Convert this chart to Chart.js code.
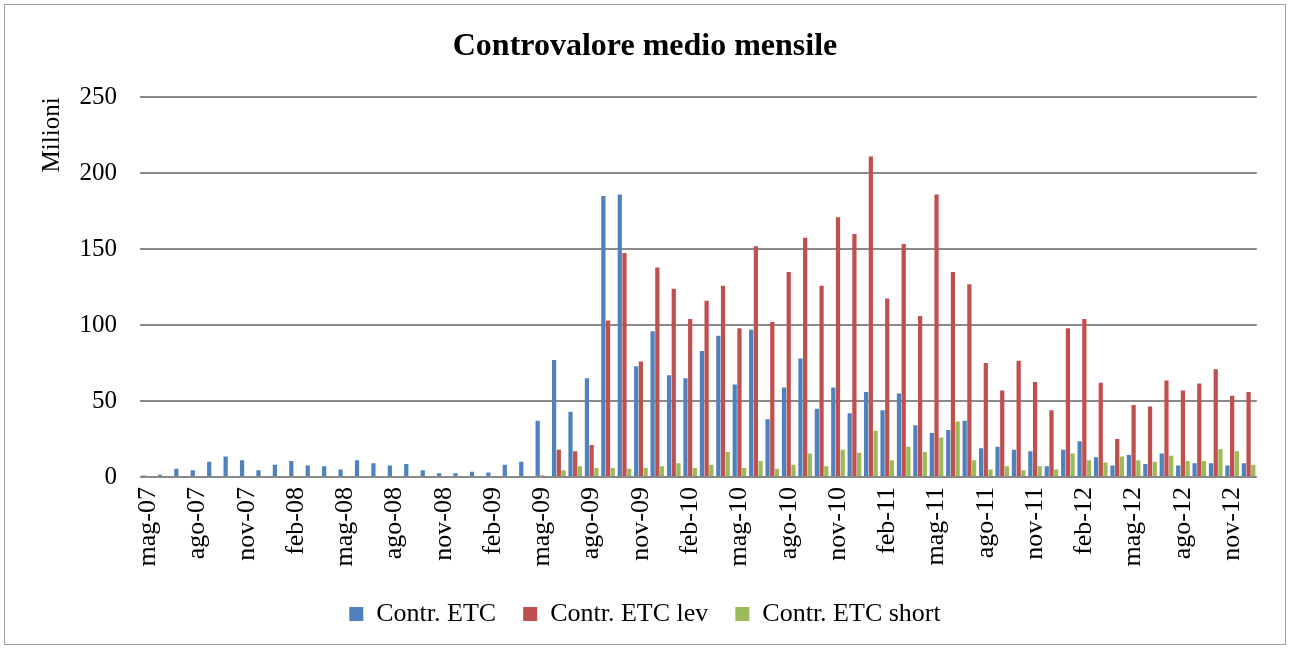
<!DOCTYPE html>
<html>
<head>
<meta charset="utf-8">
<title>Controvalore medio mensile</title>
<script src="https://cdn.jsdelivr.net/npm/chart.js@4.4.0/dist/chart.umd.min.js"></script>
<style>
  html, body { margin: 0; padding: 0; background: #fff; overflow: hidden; }
  #wrap { position: relative; width: 1290px; height: 649px; }
</style>
</head>
<body>
<div id="wrap"><canvas id="myChart"></canvas></div>
<script>
// Months, mag-07 .. dic-12
const months = [
  'mag-07','giu-07','lug-07','ago-07','set-07','ott-07','nov-07','dic-07',
  'gen-08','feb-08','mar-08','apr-08','mag-08','giu-08','lug-08','ago-08','set-08','ott-08','nov-08','dic-08',
  'gen-09','feb-09','mar-09','apr-09','mag-09','giu-09','lug-09','ago-09','set-09','ott-09','nov-09','dic-09',
  'gen-10','feb-10','mar-10','apr-10','mag-10','giu-10','lug-10','ago-10','set-10','ott-10','nov-10','dic-10',
  'gen-11','feb-11','mar-11','apr-11','mag-11','giu-11','lug-11','ago-11','set-11','ott-11','nov-11','dic-11',
  'gen-12','feb-12','mar-12','apr-12','mag-12','giu-12','lug-12','ago-12','set-12','ott-12','nov-12','dic-12'
];

// Values in millions
const contrEtc = [
  1, 1.5, 5.5, 4.5, 10, 13.5, 11, 4.5,
  8, 10.5, 7.5, 7, 5, 11, 9, 7.5, 8.5, 4.5, 2.5, 2.5,
  3.5, 3, 8, 10, 37, 77, 43, 65, 185, 186, 73, 96,
  67, 65, 83, 93, 61, 97, 38, 59, 78, 45, 59, 42,
  56, 44, 55, 34, 29, 31, 37, 19, 20, 18, 17, 7,
  18, 23.5, 13, 7.5, 14.5, 8.5, 15.5, 7.5, 9, 9, 7.5, 9
];
const contrEtcLev = [
  null, null, null, null, null, null, null, null,
  null, null, null, null, null, null, null, null, null, null, null, null,
  null, null, null, null, 1, 18, 17, 21, 103, 147.5, 76, 138,
  124, 104, 116, 126, 98, 152, 102, 135, 157.5, 126, 171, 160,
  211, 117.5, 153.5, 106, 186, 135, 127, 75, 57, 76.5, 62.5, 44,
  98, 104, 62, 25, 47.5, 46.5, 63.5, 57, 61.5, 71, 53.5, 56
];
const contrEtcShort = [
  null, null, null, null, null, null, null, null,
  null, null, null, null, null, null, null, null, null, null, null, null,
  null, null, null, null, null, 4.5, 7, 6, 6, 5.5, 6, 7,
  9, 6, 8, 16.5, 6, 10.5, 5.5, 8, 15.5, 7, 18, 16,
  30.5, 11, 20, 16.5, 26, 36.5, 11, 5, 7, 4.5, 7, 5,
  15.5, 11, 9.5, 13.5, 11, 10, 14, 10.5, 10.5, 18.5, 17, 8
];

const yTicks = [0, 50, 100, 150, 200, 250];

const serif = '"Liberation Serif", "Times New Roman", serif';
const gridGray = '#8a8a8a';

// Outer frame like the Excel chart border
const framePlugin = {
  id: 'frame',
  beforeDraw(chart) {
    const c = chart.ctx;
    c.save();
    c.fillStyle = '#ffffff';
    c.fillRect(0, 0, chart.width, chart.height);
    c.strokeStyle = '#a0a0a0';
    c.lineWidth = 1;
    c.strokeRect(4.5, 4.5, 1281, 640);
    c.restore();
  }
};

const ctx = document.getElementById('myChart').getContext('2d');
const myChart = new Chart(ctx, {
  type: 'bar',
  data: {
    labels: months,
    datasets: [
      { label: 'Contr. ETC', data: contrEtc, backgroundColor: '#4f81bd' },
      { label: 'Contr. ETC lev', data: contrEtcLev, backgroundColor: '#c0504d' },
      { label: 'Contr. ETC short', data: contrEtcShort, backgroundColor: '#9bbb59' }
    ]
  },
  options: {
    responsive: true,
    maintainAspectRatio: false,
    animation: false,
    layout: { padding: { top: 0, left: 0, right: 0, bottom: 12 } },
    datasets: {
      bar: { categoryPercentage: 0.86, barPercentage: 0.9, borderWidth: 0 }
    },
    plugins: {
      title: {
        display: true,
        text: 'Controvalore medio mensile',
        color: '#000',
        font: { family: serif, size: 32, weight: 'bold' },
        padding: { top: 28, bottom: 31 }
      },
      legend: {
        position: 'bottom',
        labels: {
          color: '#000',
          font: { family: serif, size: 26 },
          boxWidth: 14,
          boxHeight: 14,
          padding: 27
        }
      },
      tooltip: { enabled: false }
    },
    scales: {
      x: {
        grid: { display: false, drawTicks: false },
        border: { display: false },
        ticks: {
          autoSkip: false,
          minRotation: 90,
          maxRotation: 90,
          padding: 10,
          color: '#000',
          font: { family: serif, size: 26 },
          callback: function (value, index) {
            return index % 3 === 0 ? months[index] : '';
          }
        },
        afterFit: function (scale) { scale.height = 97; }
      },
      y: {
        min: yTicks[0],
        max: yTicks[yTicks.length - 1],
        grid: { color: gridGray, lineWidth: 2, drawTicks: false },
        border: { display: false },
        ticks: {
          stepSize: 50,
          padding: 23,
          color: '#000',
          font: { family: serif, size: 25 }
        },
        title: {
          display: true,
          text: 'Milioni',
          align: 'end',
          color: '#000',
          font: { family: serif, size: 25 },
          padding: { top: 37, bottom: 0 }
        },
        afterFit: function (scale) { scale.width = 140; }
      },
      // empty right-hand axis, only keeps the right margin of the plot
      yRight: {
        position: 'right',
        min: yTicks[0],
        max: yTicks[yTicks.length - 1],
        grid: { display: false, drawTicks: false },
        border: { display: false },
        ticks: { display: false },
        afterFit: function (scale) { scale.width = 30; }
      }
    }
  },
  plugins: [framePlugin]
});
</script>
</body>
</html>
